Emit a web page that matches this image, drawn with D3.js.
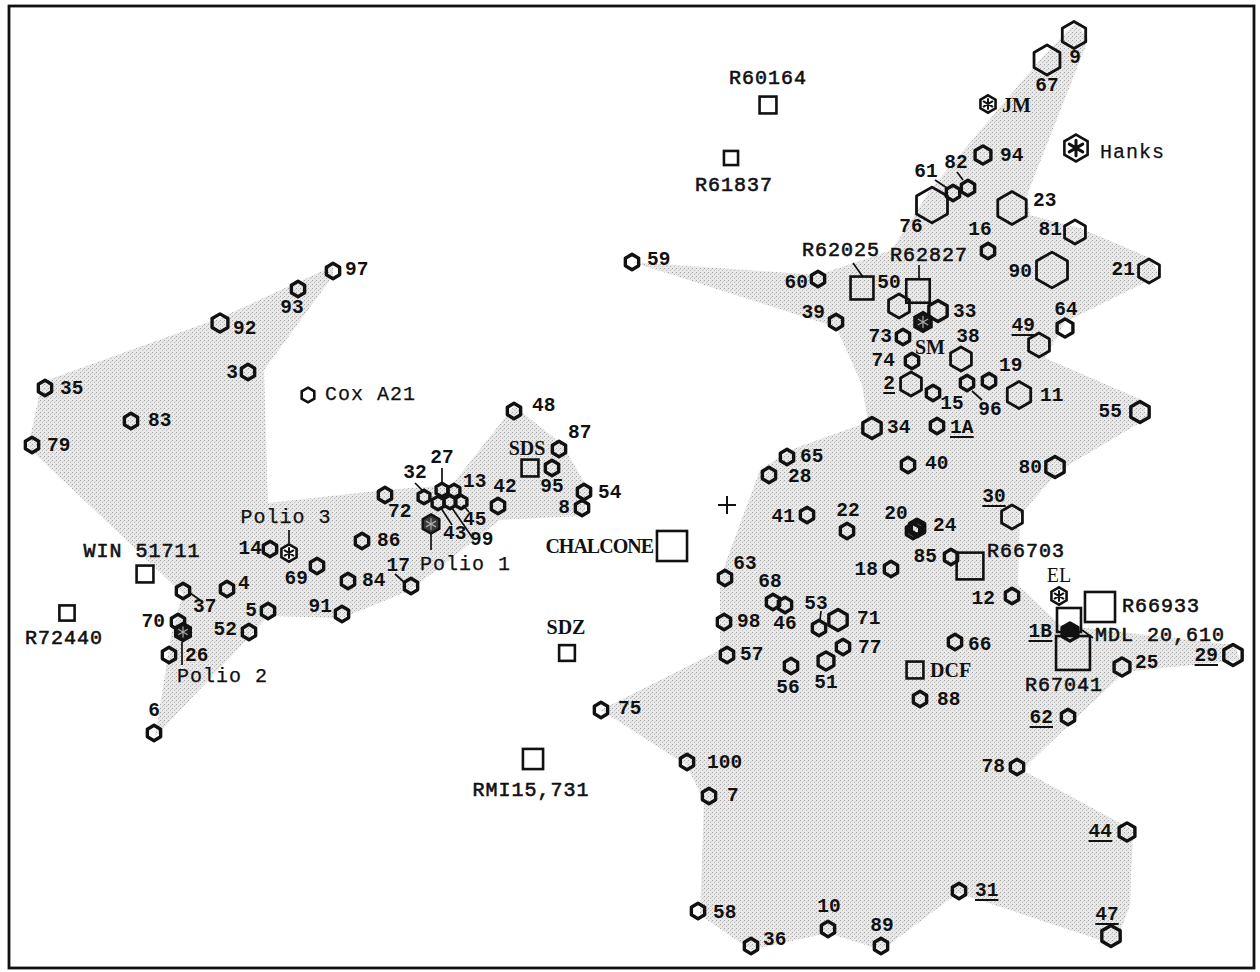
<!DOCTYPE html>
<html><head><meta charset="utf-8">
<script src="https://cdn.jsdelivr.net/npm/d3@7"></script>
<style>body{margin:0;background:#fff}</style>
</head><body><svg id="c" width="1260" height="972"></svg>
<script>
// ---------------- DATA (component units) ----------------
// rhinovirus serotypes: [name, x, y, size]
const serotypes = [
 ["97",-3.94,2.34,1.5],["93",-4.29,2.16,1.5],["92",-5.07,1.82,2],["3",-4.79,1.33,1.5],
 ["35",-6.82,1.17,1.5],["83",-5.96,0.84,1.5],["79",-6.95,0.60,1.5],["14",-4.57,-0.44,1.5],
 ["37",-5.44,-0.86,1.5],["4",-5.00,-0.84,1.5],["69",-4.10,-0.61,1.5],["86",-3.65,-0.36,1.5],
 ["84",-3.79,-0.76,1.5],["17",-3.16,-0.81,1.5],["91",-3.85,-1.09,1.5],["5",-4.59,-1.06,1.5],
 ["52",-4.78,-1.27,1.5],["70",-5.49,-1.17,1.5],["26",-5.58,-1.50,1.5],["6",-5.73,-2.28,1.5],
 ["72",-3.42,0.10,1.5],["32",-3.03,0.08,1.2],["27",-2.85,0.15,1.2],["13",-2.73,0.14,1.2],
 ["43",-2.89,0.02,1.2],["99",-2.77,0.03,1.2],["45",-2.66,0.03,1.2],["42",-2.29,-0.01,1.5],
 ["48",-2.13,0.94,1.5],["87",-1.68,0.56,1.5],["95",-1.75,0.37,1.5],["54",-1.43,0.13,1.5],
 ["8",-1.45,-0.03,1.5],["59",-0.95,2.43,1.5],["60",0.91,2.26,1.5],["39",1.09,1.83,1.5],
 ["50",1.72,1.99,3],["33",2.11,1.94,2.5],["73",1.76,1.68,1.5],["38",2.34,1.46,3],
 ["74",1.85,1.44,1.5],["2",1.84,1.21,3],["15",2.06,1.12,1.5],["96",2.40,1.22,1.5],
 ["19",2.62,1.24,1.5],["11",2.92,1.10,3.5],["49",3.12,1.60,3],["64",3.38,1.77,2],
 ["21",4.22,2.34,3],["90",3.25,2.35,5],["81",3.48,2.73,3],["23",2.85,2.97,4.5],
 ["16",2.61,2.54,1.5],["76",2.05,3.00,5],["61",2.26,3.12,1.5],["82",2.41,3.17,1.5],
 ["94",2.56,3.50,2],["67",3.20,4.45,4],["9",3.47,4.70,3.5],["55",4.13,0.93,2.5],
 ["34",1.45,0.77,2.5],["1A",2.10,0.79,1.5],["40",1.81,0.40,1.5],["80",3.28,0.38,2.5],
 ["30",2.85,-0.12,3],["65",0.60,0.48,1.5],["28",0.42,0.30,1.5],["41",0.80,-0.10,1.5],
 ["22",1.20,-0.26,1.5],["20",1.86,-0.26,1.5],["24",1.90,-0.23,1.5],["18",1.64,-0.64,1.5],
 ["85",2.24,-0.52,1.5],["12",2.85,-0.91,1.5],["1B",3.43,-1.27,2],["25",3.95,-1.62,2],
 ["29",5.06,-1.50,2.5],["62",3.41,-2.12,1.5],["78",2.90,-2.62,1.5],["44",4.00,-3.27,2],
 ["47",3.84,-4.31,2.5],["31",2.32,-3.86,1.5],["89",1.54,-4.41,1.5],["10",1.01,-4.24,1.5],
 ["36",0.24,-4.41,1.5],["58",-0.29,-4.06,1.5],["7",-0.18,-2.91,1.5],["100",-0.40,-2.57,1.5],
 ["75",-1.26,-2.05,1.5],["57",0.00,-1.50,1.5],["56",0.64,-1.61,1.5],["51",0.99,-1.56,2],
 ["77",1.16,-1.42,1.5],["66",2.28,-1.37,1.5],["88",1.93,-1.94,1.5],["71",1.11,-1.15,2.5],
 ["53",0.92,-1.23,1.5],["46",0.58,-1.00,1.5],["68",0.46,-0.97,1.5],["98",-0.03,-1.17,1.5],
 ["63",-0.02,-0.73,1.5]
];
const underlinedSerotypes = ["2","1A","30","49","1B","29","62","44","31","47"];
const halfFilledSerotypes = ["1B"];
const solidSerotypes = ["24"];

// other picornaviruses: [name, x, y, size, kind]
const otherViruses = [
 ["Cox A21",-4.19,1.10,1.3,"open"],["Polio 3",-4.38,-0.48,1.8,"star"],
 ["Polio 1",-2.96,-0.19,2.1,"dark"],["Polio 2",-5.44,-1.27,1.9,"dark"],
 ["SM",1.96,1.83,2.2,"dark"],["JM",2.61,4.01,1.8,"star"],
 ["Hanks",3.49,3.57,3.4,"star"],["EL",3.32,-0.91,1.8,"star"]
];

// antiviral compounds: [name, x, y, size]
const compounds = [
 ["R60164",0.41,4.00,1.7],["R61837",0.04,3.47,1.2],["WIN 51711",-5.82,-0.69,1.7],
 ["R72440",-6.60,-1.08,1.4],["SDS",-1.97,0.37,1.7],["CHALCONE",-0.55,-0.41,4.1],
 ["SDZ",-1.60,-1.48,1.5],["RMI15,731",-1.94,-2.54,2.3],["R62025",1.35,2.17,2.8],
 ["R62827",1.91,2.14,2.9],["R66703",2.43,-0.61,3.5],["R66933",3.73,-1.02,4.1],
 ["MDL 20,610",3.42,-1.15,3.0],["R67041",3.46,-1.48,4.8],["DCF",1.88,-1.65,1.7]
];

// shaded group outlines (component units)
const hullLeft = [[-3.94,2.39],[-5.07,1.87],[-6.85,1.23],[-6.99,0.58],[-5.44,-0.89],[-5.55,-1.25],
 [-5.72,-2.32],[-4.77,-1.31],[-4.59,-1.11],[-3.85,-1.13],[-3.16,-0.85],[-2.27,-0.15],[-1.44,-0.11],
 [-1.37,0.13],[-1.65,0.61],[-2.13,0.99],[-2.75,0.20],[-3.42,0.15],[-4.59,0.02],[-4.63,1.35],[-3.94,2.29]];
const hullRight = [[3.49,4.83],[3.61,4.65],[3.00,3.10],[3.03,2.90],[3.53,2.77],[4.23,2.47],[4.33,2.30],
 [3.38,1.83],[3.18,1.47],[4.15,1.05],[4.21,0.87],[3.33,0.35],[2.93,-0.10],[2.91,-0.80],[3.33,-1.20],
 [5.08,-1.40],[5.13,-1.55],[3.98,-1.67],[3.45,-2.17],[2.95,-2.65],[4.06,-3.25],[4.03,-4.00],[3.88,-4.40],
 [2.31,-3.88],[1.55,-4.45],[1.01,-4.28],[0.24,-4.45],[-0.27,-4.10],[-0.23,-2.95],[-0.41,-2.60],
 [-1.26,-2.05],[-0.07,-1.45],[-0.07,-0.73],[0.33,0.35],[0.63,0.55],[1.41,0.83],[1.35,1.20],
 [1.09,1.78],[-0.95,2.43],[0.91,2.30],[1.65,2.55],[2.03,3.15],[3.13,4.45]];
const centroid = [0, 0];

// ---------------- LAYOUT (label offsets in px: dx, dy, anchor) ----------------
const labelLayout = {
 "97":[12,-1,"start"],"93":[-6,19,"middle"],"92":[13,6,"start"],"3":[-10,1,"end"],
 "35":[15,1,"start"],"83":[17,0,"start"],"79":[15,1,"start"],"14":[-8,0,"end"],
 "37":[10,16,"start"],"4":[11,-5,"start"],"69":[-9,13,"end"],"86":[15,0,"start"],
 "84":[14,0,"start"],"17":[-1,-20,"end"],"91":[-10,-7,"end"],"5":[-11,0,"end"],
 "52":[-12,-2,"end"],"70":[-13,0,"end"],"26":[16,1,"start"],"6":[0,-22,"middle"],
 "72":[3,17,"start"],"32":[-9,-24,"middle"],"27":[0,-32,"middle"],"13":[9,-9,"start"],
 "43":[5,31,"start"],"99":[20,38,"start"],"45":[2,18,"start"],"42":[7,-19,"middle"],
 "48":[18,-5,"start"],"87":[9,-16,"start"],"95":[0,19,"middle"],"54":[14,1,"start"],
 "8":[-12,0,"end"],"59":[15,-2,"start"],"60":[-10,4,"end"],"39":[-11,-9,"end"],
 "50":[-10,-23,"middle"],"33":[15,1,"start"],"73":[-11,0,"end"],"38":[7,-22,"middle"],
 "74":[-17,0,"end"],"2":[-16,0,"end"],"15":[19,11,"middle"],"96":[23,27,"middle"],
 "19":[10,-15,"start"],"11":[21,1,"start"],"49":[-4,-19,"end"],"64":[1,-18,"middle"],
 "21":[-14,-1,"end"],"90":[-20,2,"end"],"81":[-13,-2,"end"],"23":[21,-7,"start"],
 "16":[-8,-21,"middle"],"76":[-21,22,"middle"],"61":[-27,-21,"middle"],"82":[-12,-25,"middle"],
 "94":[17,1,"start"],"67":[0,26,"middle"],"9":[1,23,"middle"],"55":[-18,0,"end"],
 "34":[15,0,"start"],"1A":[13,2,"start"],"40":[17,-1,"start"],"80":[-13,1,"end"],
 "30":[-18,-20,"middle"],"65":[13,0,"start"],"28":[19,2,"start"],"41":[-12,2,"end"],
 "22":[1,-20,"middle"],"20":[-17,-17,"middle"],"24":[16,-2,"start"],"18":[-13,1,"end"],
 "85":[-14,0,"end"],"12":[-17,3,"end"],"1B":[-18,0,"end"],"25":[13,-4,"start"],
 "29":[-15,1,"end"],"62":[-15,1,"end"],"78":[-12,0,"end"],"44":[-15,0,"end"],
 "47":[-4,-21,"middle"],"31":[16,0,"start"],"89":[1,-20,"middle"],"10":[1,-22,"middle"],
 "36":[12,-6,"start"],"58":[15,2,"start"],"7":[18,0,"start"],"100":[20,1,"start"],
 "75":[17,-1,"start"],"57":[13,0,"start"],"56":[-3,22,"middle"],"51":[0,22,"middle"],
 "77":[15,1,"start"],"66":[13,3,"start"],"88":[17,1,"start"],"71":[19,-1,"start"],
 "53":[-3,-24,"middle"],"46":[0,19,"middle"],"68":[-3,-20,"middle"],"98":[13,0,"start"],
 "63":[20,-14,"middle"],
 "Cox A21":[17,-1,"start"],"Polio 3":[-3,-36,"middle"],"Polio 1":[-11,40,"start"],
 "Polio 2":[-6,44,"start"],"SM":[7,25,"middle"],"JM":[14,1,"start"],"Hanks":[24,4,"start"],
 "EL":[0,-21,"middle"],
 "R60164":[0,-27,"middle"],"R61837":[3,27,"middle"],"WIN 51711":[-3,-23,"middle"],
 "R72440":[-3,25,"middle"],"SDS":[-3,-20,"middle"],"CHALCONE":[-19,0,"end"],
 "SDZ":[-1,-26,"middle"],"RMI15,731":[-2,31,"middle"],"R62025":[-21,-38,"middle"],
 "R62827":[11,-36,"middle"],"R66703":[17,-15,"start"],"R66933":[22,-1,"start"],
 "MDL 20,610":[26,15,"start"],"R67041":[-9,32,"middle"],"DCF":[15,0,"start"]
};
// leader lines [x1,y1,x2,y2] relative to the mark centre (px)
const leaders = {
 "37":[7,2,17,9],"17":[-16,-12,-6,-3],"32":[-9,-14,-2,-7],"27":[0,-22,0,-7],
 "43":[3,5,14,22],"99":[2,6,22,35],"45":[2,3,8,10],"61":[-18,-13,-6,-5],"82":[-11,-16,-5,-8],
 "96":[5,8,15,17],"53":[2,-17,1,-8],"Polio 3":[0,-23,0,-10],"Polio 1":[0,10,0,26],
 "Polio 2":[-1,10,-1,33],"R62025":[-9,-25,1,-11],"R62827":[1,-26,1,-13],"MDL 20,610":[13,10,24,18]
};

// ---------------- DRAW ----------------
const W = 1260, H = 972;
const svg = d3.select("#c");
const x = d3.scaleLinear().domain([-7.27, 5.33]).range([0, W]);
const y = d3.scaleLinear().domain([5.05, -4.67]).range([0, H]);
const hexR = d3.scaleLinear().domain([1, 5]).range([7.8, 19.5]);
const sqSide = d3.scaleLinear().domain([1, 5]).range([13, 35]);

const defs = svg.append("defs");
const pat = defs.append("pattern").attr("id","stip").attr("patternUnits","userSpaceOnUse")
  .attr("width",4).attr("height",4);
pat.append("rect").attr("width",4).attr("height",4).attr("fill","#e9e9e9");
pat.append("rect").attr("x",0).attr("y",0).attr("width",1).attr("height",1).attr("fill","#a4a4a4");
pat.append("rect").attr("x",2).attr("y",2).attr("width",1).attr("height",1).attr("fill","#bcbcbc");
pat.append("rect").attr("x",3).attr("y",1).attr("width",1).attr("height",1).attr("fill","#d2d2d2");

svg.append("rect").attr("x",0).attr("y",0).attr("width",W).attr("height",H).attr("fill","#fff");

const line = d3.line().x(d => x(d[0])).y(d => y(d[1])).curve(d3.curveLinearClosed);
[hullLeft, hullRight].forEach(h => {
  svg.append("path").attr("d", line(h)).attr("fill","url(#stip)").attr("stroke","none");
});

// frame
svg.append("rect").attr("x",9).attr("y",6).attr("width",1245).attr("height",962)
  .attr("fill","none").attr("stroke","#111").attr("stroke-width",2.8);

// centroid "+"
const cx0 = x(centroid[0]), cy0 = y(centroid[1]);
svg.append("path").attr("d",`M${cx0-9},${cy0}H${cx0+9}M${cx0},${cy0-9}V${cy0+9}`)
  .attr("stroke","#111").attr("stroke-width",2);

function hexPath(r){
  const pts = d3.range(6).map(i => { const a = Math.PI/180*(-90+60*i); return [r*Math.cos(a), r*Math.sin(a)]; });
  return "M" + pts.map(p => p.join(",")).join("L") + "Z";
}
function halfHexPath(r){
  const ang = [150,210,270,330,30];
  const pts = ang.map(a => [r*Math.cos(a*Math.PI/180), r*Math.sin(a*Math.PI/180)]);
  return "M" + pts.map(p => p.join(",")).join("L") + "Z";
}
function starPath(r){
  let d = "";
  [90,30,150].forEach(a => { const c = Math.cos(a*Math.PI/180)*r, s = Math.sin(a*Math.PI/180)*r;
    d += `M${-c},${-s}L${c},${s}`; });
  return d;
}

const gLead = svg.append("g").attr("stroke","#111").attr("stroke-width",1.7);
const gMarks = svg.append("g");
const gText = svg.append("g");

const all = [];
serotypes.forEach(d => all.push({name:d[0], x:d[1], y:d[2], s:d[3], type:"sero"}));
otherViruses.forEach(d => all.push({name:d[0], x:d[1], y:d[2], s:d[3], type:"virus", kind:d[4]}));
compounds.forEach(d => all.push({name:d[0], x:d[1], y:d[2], s:d[3], type:"cmp"}));

// leaders
all.forEach(d => {
  const L = leaders[d.name]; if (!L) return;
  const px = x(d.x), py = y(d.y);
  gLead.append("line").attr("x1",px+L[0]).attr("y1",py+L[1]).attr("x2",px+L[2]).attr("y2",py+L[3]);
});

// compounds (squares)
compounds.forEach(d => {
  const s = sqSide(d[3]);
  gMarks.append("rect").attr("x",x(d[1])-s/2).attr("y",y(d[2])-s/2).attr("width",s).attr("height",s)
    .attr("fill","none").attr("stroke","#111").attr("stroke-width",2.6);
});

// serotypes (hexagons)
serotypes.forEach(d => {
  const r = hexR(d[3]) - 1.6;
  const g = gMarks.append("g").attr("transform",`translate(${x(d[1])},${y(d[2])})`);
  if (halfFilledSerotypes.includes(d[0]))
    g.append("path").attr("d",halfHexPath(r)).attr("fill","#111");
  g.append("path").attr("d",hexPath(r)).attr("fill","none").attr("stroke","#111")
    .attr("stroke-width", solidSerotypes.includes(d[0]) ? 5.5 : (d[3] >= 3 ? 2.8 : 3.4))
    .attr("stroke-linejoin","round");
});

// other viruses
otherViruses.forEach(d => {
  const r = hexR(d[3]) - 1.4;
  const g = gMarks.append("g").attr("transform",`translate(${x(d[1])},${y(d[2])})`);
  if (d[4] === "open") {
    g.append("path").attr("d",hexPath(r)).attr("fill","none").attr("stroke","#111").attr("stroke-width",2.6);
  } else if (d[4] === "star") {
    g.append("path").attr("d",hexPath(r)).attr("fill","#fff").attr("stroke","#111").attr("stroke-width",2.6);
    g.append("path").attr("d",starPath(r*0.58)).attr("stroke","#111")
      .attr("stroke-width", d[3] > 2 ? 3 : 2).attr("stroke-linecap","round");
  } else {
    g.append("path").attr("d",hexPath(r)).attr("fill", d[0]==="Polio 1" ? "#3a3a3a" : "#161616")
      .attr("stroke","#111").attr("stroke-width",2.4);
    g.append("path").attr("d",starPath(r*0.6)).attr("stroke","#aaa").attr("stroke-width",1.2);
  }
});

// labels
const serifNames = ["CHALCONE","SDS","SDZ","DCF","SM","JM","EL"];
const lightNames = ["Cox A21","Hanks","Polio 1","Polio 2","Polio 3"];
all.forEach(d => {
  const L = labelLayout[d.name]; if (!L) return;
  const px = x(d.x) + L[0], py = y(d.y) + L[1];
  const t = gText.append("text").attr("x",px).attr("y",py).attr("text-anchor",L[2])
    .attr("dominant-baseline","central").attr("fill","#111").text(d.name);
  if (d.type === "sero") {
    t.attr("font-family","'Liberation Mono', 'DejaVu Sans Mono', monospace")
     .attr("font-weight","bold").attr("font-size",19.5);
  } else if (serifNames.includes(d.name)) {
    t.attr("font-family","'Liberation Serif', 'DejaVu Serif', serif")
     .attr("font-weight", d.name === "EL" ? "normal" : "bold")
     .attr("font-size",20).attr("letter-spacing", d.name==="CHALCONE" ? -1 : 0);
  } else {
    t.attr("font-family","'Liberation Mono', 'DejaVu Sans Mono', monospace")
     .attr("font-weight","normal").attr("font-size",20).attr("letter-spacing",1);
    if (!lightNames.includes(d.name)) t.attr("stroke","#111").attr("stroke-width",0.6);
    else t.attr("stroke","#111").attr("stroke-width",0.25);
  }
  if (underlinedSerotypes.includes(d.name)) {
    const b = t.node().getBBox();
    gText.append("line").attr("x1",b.x).attr("x2",b.x+b.width).attr("y1",b.y+b.height-2).attr("y2",b.y+b.height-2)
      .attr("stroke","#111").attr("stroke-width",2);
  }
});
</script></body></html>
